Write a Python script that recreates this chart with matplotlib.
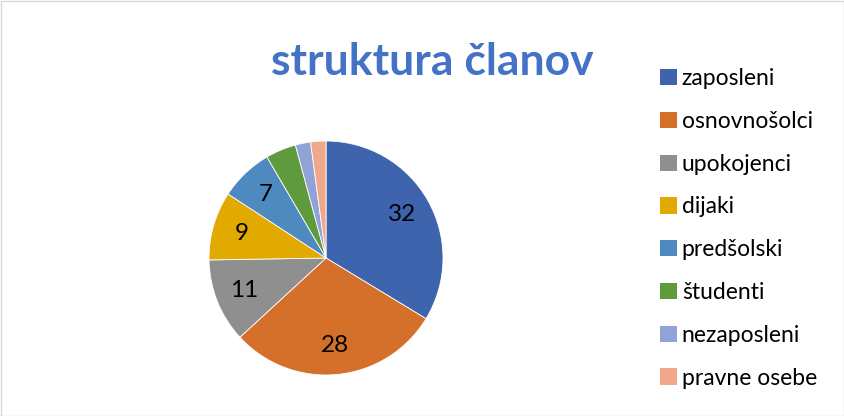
import matplotlib
matplotlib.use("Agg")
import matplotlib.pyplot as plt
from matplotlib.patches import Rectangle, Patch

categories = ["zaposleni", "osnovnošolci", "upokojenci", "dijaki", "predšolski",
              "študenti", "nezaposleni", "pravne osebe"]
values = [32, 28, 11, 9, 7, 4, 2, 2]
colors = ["#3D64AD", "#D5702B", "#8F8F8F", "#E2AA00", "#4E89BF", "#5F9A3C",
          "#91A3D6", "#F1A78B"]
title = "struktura članov"
font = ["Lato", "DejaVu Sans"]

W, H = 845, 416
fig = plt.figure(figsize=(W / 100, H / 100), dpi=100)
fig.patches.append(Rectangle((0.5 / W, 0.5 / H), 1 - 1.5 / W, 1 - 1.5 / H,
                             transform=fig.transFigure, fill=False,
                             edgecolor="#D9D9D9", linewidth=1))

cx, cy, r = 326, 258, 117
ax = fig.add_axes([(cx - r) / W, (H - cy - r) / H, 2 * r / W, 2 * r / H])

def fmt(p):
    v = p * sum(values) / 100
    return f"{v:.0f}" if v >= 5 else ""

wedges, texts, autotexts = ax.pie(values, colors=colors, startangle=90, counterclock=False,
                                  autopct=fmt, pctdistance=0.75,
                                  wedgeprops=dict(edgecolor="white", linewidth=0.6),
                                  textprops=dict(fontsize=17.5, family=font, color="black"))
ax.set_xlim(-1, 1)
ax.set_ylim(-1, 1)
ax.set_aspect("equal")
ax.axis("off")

fig.text(432 / W, 1 - 62 / H, title, ha="center", va="center", fontsize=32,
         fontweight="bold", color="#4472C4", family=font)

handles = [Patch(facecolor=c, edgecolor="none") for c in colors]
leg = fig.legend(handles, categories, loc="upper left", bbox_to_anchor=(651 / W, 1 - 59 / H),
                 frameon=False, prop=dict(family=font, size=16.5), handlelength=0.72,
                 handleheight=0.72, handletextpad=0.22, labelspacing=0.95, borderaxespad=0)

fig.savefig("out.png", dpi=100)
